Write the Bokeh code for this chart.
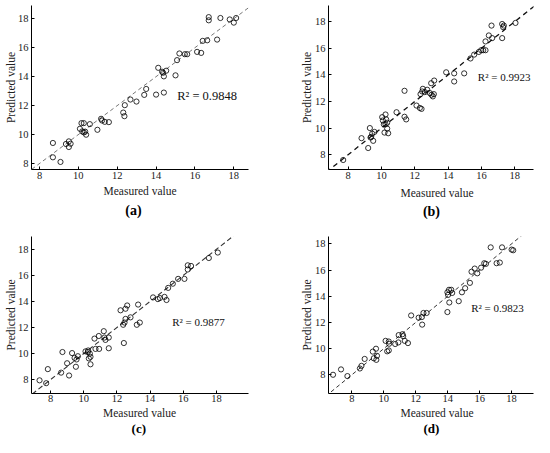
from bokeh.plotting import figure
from bokeh.layouts import row, column
from bokeh.models import Label, FixedTicker, Title
from bokeh.embed import file_html
from bokeh.resources import INLINE

# ---------------- data ----------------
a_measured = [8.69, 8.69, 9.08, 9.36, 9.51, 9.60, 9.51, 10.08, 10.16, 10.28, 10.20, 10.28, 10.35,
              10.40, 10.59, 10.98, 11.17, 11.22, 11.36, 11.57, 12.31, 12.37, 12.39, 12.68, 12.99,
              13.39, 13.49, 14.00, 14.40, 14.11, 14.31, 14.36, 14.40, 14.52, 15.00, 15.08, 15.20,
              15.48, 15.60, 16.11, 16.32, 16.40, 16.63, 17.14, 16.71, 16.71, 17.31, 17.79, 18.00, 18.12]
a_predicted = [9.42, 8.43, 8.11, 9.35, 9.53, 9.37, 9.14, 10.40, 10.79, 10.79, 10.22, 10.15, 10.20,
               9.99, 10.72, 10.33, 11.09, 10.97, 10.88, 10.86, 11.52, 11.27, 12.03, 12.42, 12.28,
               12.74, 13.15, 12.76, 12.90, 14.61, 14.34, 14.27, 14.02, 14.41, 14.09, 15.14, 15.60,
               15.55, 15.55, 15.71, 15.64, 16.47, 16.51, 16.56, 18.11, 17.89, 18.05, 17.95, 17.73, 18.05]

b_measured = [7.70, 8.80, 9.20, 9.30, 9.38, 9.44, 9.50, 9.58, 9.34, 10.04, 10.08, 10.14, 10.18,
              10.24, 10.28, 10.34, 10.40, 10.24, 10.34, 10.90, 11.38, 11.38, 11.48, 12.10, 12.30,
              12.40, 12.34, 12.44, 12.48, 12.60, 12.74, 12.90, 13.00, 13.08, 13.14, 12.98, 13.16,
              13.88, 14.36, 14.36, 14.96, 15.34, 15.56, 15.84, 15.98, 16.10, 16.24, 16.24, 16.44,
              16.64, 16.60, 17.24, 17.30, 17.24, 18.04, 17.34]
b_predicted = [7.60, 9.24, 8.50, 10.00, 9.34, 9.58, 9.04, 9.71, 9.29, 10.82, 10.57, 10.28, 9.66,
               11.02, 10.65, 9.96, 9.61, 10.28, 10.40, 11.19, 12.80, 10.85, 10.65, 11.69, 11.51,
               11.44, 12.55, 12.75, 12.95, 12.70, 12.88, 12.63, 12.50, 12.38, 12.55, 13.37, 13.57,
               14.19, 14.11, 13.50, 14.11, 15.23, 15.52, 15.72, 15.85, 15.85, 15.85, 16.51, 16.96,
               16.76, 17.70, 17.82, 17.58, 16.76, 17.90, 17.70]

c_measured = [7.34, 7.74, 7.84, 8.64, 8.72, 9.00, 9.12, 9.30, 9.45, 9.53, 9.57, 9.65, 10.11,
              10.25, 10.31, 10.37, 10.41, 10.41, 10.27, 10.65, 10.71, 10.93, 10.91, 11.21, 11.31,
              11.25, 11.51, 11.51, 12.22, 12.38, 12.46, 12.52, 12.52, 12.62, 12.42, 12.82, 13.20,
              13.28, 13.38, 14.18, 14.47, 14.59, 14.87, 14.99, 15.09, 15.37, 15.69, 16.07, 16.27,
              16.27, 16.47, 17.54, 18.08]
c_predicted = [7.95, 7.73, 8.81, 8.54, 10.12, 9.26, 8.32, 10.04, 9.67, 8.99, 9.55, 9.80, 10.17,
               10.12, 9.63, 10.00, 9.75, 9.18, 10.24, 11.15, 10.36, 10.36, 11.35, 11.72, 11.05,
               11.23, 11.23, 10.41, 13.32, 12.21, 12.38, 12.66, 13.44, 13.69, 10.81, 12.78, 12.21,
               13.76, 12.38, 14.31, 14.18, 14.26, 14.35, 14.11, 15.04, 15.36, 15.73, 15.73, 16.45,
               16.77, 16.72, 17.33, 17.75]

d_measured = [6.82, 7.32, 7.72, 8.50, 8.60, 8.80, 9.31, 9.37, 9.51, 9.53, 9.57, 10.11, 10.21,
              10.31, 10.33, 10.31, 10.71, 10.91, 10.93, 11.17, 11.21, 11.31, 11.51, 11.71, 12.18,
              12.38, 12.48, 12.68, 12.40, 13.98, 14.02, 14.08, 14.22, 14.28, 14.10, 13.98, 14.69,
              14.89, 15.09, 15.39, 15.49, 15.69, 15.85, 16.09, 16.29, 16.39, 16.69, 17.06, 17.26,
              17.40, 18.00, 18.10]
d_predicted = [8.00, 8.41, 7.90, 8.48, 8.68, 9.21, 9.77, 9.26, 9.99, 9.14, 9.45, 10.59, 9.79,
               10.54, 10.37, 9.86, 10.35, 10.47, 11.03, 11.10, 10.95, 10.59, 10.42, 12.53, 12.36,
               12.41, 12.72, 12.72, 11.83, 14.30, 14.10, 14.49, 14.49, 14.25, 13.52, 12.79, 13.62,
               14.30, 14.61, 15.02, 15.87, 16.11, 15.75, 16.18, 16.52, 16.47, 17.73, 16.52, 16.57,
               17.73, 17.56, 17.51]

r2_texts = ["R\u00b2 = 0.9848", "R\u00b2 = 0.9923", "R\u00b2 = 0.9877", "R\u00b2 = 0.9823"]
panel_tags = ["(a)", "(b)", "(c)", "(d)"]
tick_values = [8, 10, 12, 14, 16, 18]
diag = [5, 21]
x_title = "Measured value"
y_title = "Predicted value"

FONT = "Liberation Serif"


def make_panel(xs, ys, xr, yr, size, borders, r2, r2_pos, r2_size, tag, tag_off, tag_size,
               tag_standoff, xlab_off, xlab_standoff, ylab_standoff, xtick_standoff,
               dash_color, dash, dash_w):
    w, h = size
    bl, br, bt, bb = borders
    p = figure(width=w, height=h, x_range=xr, y_range=yr,
               output_backend="svg", toolbar_location=None,
               min_border_left=bl, min_border_right=br, min_border_top=bt, min_border_bottom=bb)
    p.outline_line_color = None
    p.grid.visible = False
    for ax in (p.xaxis[0], p.yaxis[0]):
        ax.ticker = FixedTicker(ticks=tick_values)
        ax.minor_tick_line_color = None
        ax.major_tick_in = 3
        ax.major_tick_out = 0
        ax.axis_line_color = "black"
        ax.axis_line_width = 1
        ax.major_tick_line_color = "black"
        ax.major_label_text_font = FONT
        ax.major_label_text_font_size = "10.5px"
        ax.major_label_text_color = "#222222"
    p.xaxis.major_label_standoff = xtick_standoff
    p.yaxis.major_label_standoff = 3
    p.yaxis.axis_label = y_title
    p.yaxis.axis_label_text_font = FONT
    p.yaxis.axis_label_text_font_size = "11.5px"
    p.yaxis.axis_label_text_font_style = "normal"
    p.yaxis.axis_label_text_color = "#222222"
    p.yaxis.axis_label_standoff = ylab_standoff

    p.add_layout(Title(text=x_title, align="left", offset=xlab_off, standoff=xlab_standoff,
                       text_font=FONT, text_font_size="11.5px", text_font_style="normal",
                       text_color="#222222"), "below")
    p.add_layout(Title(text=tag, align="left", offset=tag_off, standoff=tag_standoff,
                       text_font=FONT, text_font_size=tag_size, text_font_style="bold",
                       text_color="black"), "below")

    p.line(diag, diag, line_color=dash_color, line_dash=dash, line_width=dash_w)
    p.scatter(xs, ys, marker="circle", size=5.2, fill_color=None,
              line_color="black", line_width=0.8)

    p.add_layout(Label(x=r2_pos[0], y=r2_pos[1], x_units="screen", y_units="screen",
                       text=r2, text_font=FONT, text_font_size=r2_size, text_color="#111111",
                       text_align="left", text_baseline="alphabetic"))
    return p


pa = make_panel(a_measured, a_predicted, (7.588, 18.756), (7.588, 18.913), (275, 225),
                (31, 27, 5, 55), r2_texts[0], (145.7, 74), "12.5px", panel_tags[0], 93.8, "14px", 6,
                72, 2, -2, 2, "#777777", "4 3", 1.0)
pb = make_panel(b_measured, b_predicted, (6.818, 19.12), (6.886, 19.21), (259, 225),
                (53, 1, 3, 56), r2_texts[1], (149.3, 92.3), "11px", panel_tags[1], 94.4, "14px", 0,
                72, 6, -1, 2, "#111111", "5 4", 1.3)
pc = make_panel(c_measured, c_predicted, (6.855, 19.93), (6.94, 18.98), (275, 212),
                (31, 27, 11, 44), r2_texts[2], (140.7, 72), "11px", panel_tags[2], 100.1, "13px", 0,
                71.5, 0, -2, 1, "#333333", "5 3", 1.1)
pd_ = make_panel(d_measured, d_predicted, (6.536, 19.37), (6.57, 18.56), (259, 212),
                 (53, 1, 9, 44), r2_texts[3], (142.7, 85.3), "11px", panel_tags[3], 95, "13px", 0,
                 72, 0, -1, 1, "#333333", "4 3", 1.0)

layout = column(row(pa, pb), row(pc, pd_))
open("out.html", "w").write(file_html(layout, INLINE))
